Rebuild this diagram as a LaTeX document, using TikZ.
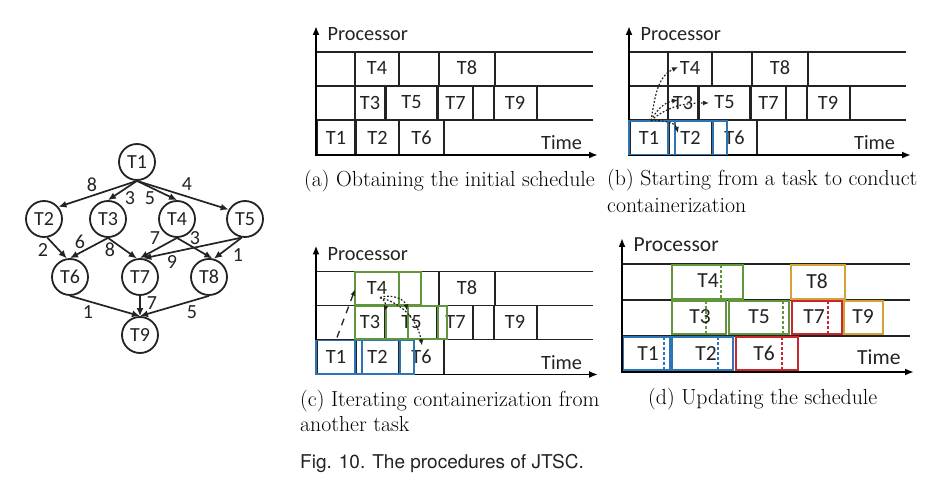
\documentclass[tikz,border=0pt]{standalone}
\usepackage{fontspec}
\newfontfamily\carl{Carlito}
\newfontfamily\heros{TeX Gyre Heros}
\usetikzlibrary{arrows.meta}
\definecolor{cblue}{RGB}{46,117,182}
\definecolor{cgreen}{RGB}{98,150,62}
\definecolor{cred}{RGB}{200,40,45}
\definecolor{corange}{RGB}{212,162,55}
\definecolor{cink}{RGB}{35,35,35}
\newcommand\basechart[1]{%
  \draw[rowline] (316,52) -- (593,52);
  \draw[rowline] (316,86) -- (593,86);
  \draw[rowline] (316,120) -- (593,120);
  \draw[tbox] (355,52) rectangle (399,86);
  \draw[tbox] (439,52) rectangle (495,86);
  \draw[tbox] (355,86) rectangle (385,120);
  \draw[tbox] (386,86) rectangle (437,120);
  \draw[tbox] (438,86) rectangle (473,120);
  \draw[tbox] (494,86) rectangle (537,120);
  \draw[tbox] (317,120) rectangle (355,155);
  \draw[tbox] (356,120) rectangle (399,155);
  \draw[tbox] (399,120) rectangle (444,155);
  \draw[axisarr] (316,155) -- (598,155);
  \draw[axisarr] (316,156) -- (316,26);
  \node[tlbl] (#1t4) at (377,68) {T4};
  \node[tlbl] (#1t8) at (467,68) {T8};
  \node[tlbl] (#1t3) at (370,102.5) {T3};
  \node[tlbl] (#1t5) at (411.5,102.5) {T5};
  \node[tlbl] (#1t7) at (455.5,102.5) {T7};
  \node[tlbl] (#1t9) at (515,102.5) {T9};
  \node[tlbl] (#1t1) at (336,137.5) {T1};
  \node[tlbl] (#1t2) at (377.5,137.5) {T2};
  \node[tlbl] (#1t6) at (421.5,137.5) {T6};
  \node[tlbl, anchor=base west] (#1proc) at (327.5,41) {Processor};
  \node[tlbl, anchor=base west] (#1time) at (541,150) {Time};
}
\newcommand\blueover{%
  \draw[blbox] (316,121) rectangle (355,154.5);
  \draw[blbox] (355,121) rectangle (362,154.5);
  \draw[blbox] (362,121) rectangle (400,154.5);
  \draw[blbox] (400,121) rectangle (414,154.5);
}
\begin{document}
\begin{tikzpicture}[x=1pt,y=-1pt,
  rowline/.style={draw=cink, line width=1.5pt},
  axisarr/.style={draw=black, line width=1.9pt, -{Latex[length=9pt,width=7pt]}},
  tbox/.style={draw=cink, line width=1.7pt},
  tlbl/.style={font=\carl\fontsize{20.3}{23}\selectfont, inner sep=0pt, text=cink},
  dlbl/.style={font=\carl\fontsize{21.5}{24}\selectfont, inner sep=0pt, text=cink},
  blbox/.style={draw=cblue, line width=1.8pt},
  grbox/.style={draw=cgreen, line width=1.8pt},
  dotarr/.style={draw=cink, line width=1.2pt, dash pattern=on 1.8pt off 1.8pt, -{Latex[length=6pt,width=5pt]}},
  dasharr/.style={draw=cink, line width=1.3pt, dash pattern=on 7pt off 6pt, -{Latex[length=6pt,width=5pt]}},
  capt/.style={font=\fontsize{21.8}{26}\selectfont, inner sep=0pt, anchor=base west},
  tnode/.style={circle, draw=cink, line width=1.8pt, minimum size=36pt, inner sep=0pt, font=\carl\fontsize{20}{23}\selectfont, text=cink},
  dagarr/.style={draw=cink, line width=1.7pt, -{Latex[length=8pt,width=7pt]}},
  wlbl/.style={font=\carl\fontsize{20}{23}\selectfont, inner sep=0pt, text=cink},
  dcol/.style={line width=2pt},
  vdash/.style={line width=1.4pt, dash pattern=on 3pt off 2pt}]
\useasboundingbox (0,0) rectangle (938,502);

% ---------------- DAG ----------------
\node[tnode] (T1) at (137,162) {T1};
\node[tnode] (T2) at (44,219) {T2};
\node[tnode] (T3) at (108,219) {T3};
\node[tnode] (T4) at (177,219) {T4};
\node[tnode] (T5) at (245,219) {T5};
\node[tnode] (T6) at (70,277) {T6};
\node[tnode] (T7) at (140,277) {T7};
\node[tnode] (T8) at (209,277) {T8};
\node[tnode] (T9) at (140,335) {T9};
\draw[dagarr] (T1.south) -- (T2.40);
\draw[dagarr] (T1.south) -- (T3.north);
\draw[dagarr] (T1.south) -- (T4.north);
\draw[dagarr] (T1.south) -- (T5.150);
\draw[dagarr] (T2.-80) -- (T6.100);
\draw[dagarr] (T3.south) -- (T6.north);
\draw[dagarr] (T3.south) -- (T7.100);
\draw[dagarr] (T4.south) -- (T7.north);
\draw[dagarr] (T4.south) -- (T8.80);
\draw[dagarr] (T5.-100) -- (T7.80);
\draw[dagarr] (T5.-100) -- (T8.75);
\draw[dagarr] (T6.south) -- (T9.north);
\draw[dagarr] (T7.south) -- (T9.north);
\draw[dagarr] (T8.south) -- (T9.north);
\node[wlbl] (w12) at (92,185) {8};
\node[wlbl] (w13) at (130,198.5) {3};
\node[wlbl] (w14) at (150,198.5) {5};
\node[wlbl] (w15) at (187,184) {4};
\node[wlbl] (w26) at (43,250) {2};
\node[wlbl] (w36) at (80,242) {6};
\node[wlbl] (w37) at (110,250) {8};
\node[wlbl] (w47) at (155,238.5) {7};
\node[wlbl] (w48) at (195,238.5) {3};
\node[wlbl] (w57) at (172,262) {9};
\node[wlbl] (w58) at (238,255) {1};
\node[wlbl] (w69) at (88,312) {1};
\node[wlbl] (w79) at (152,303.5) {7};
\node[wlbl] (w89) at (192,312) {5};

% ---------------- (a) ----------------
\basechart{a}
\node[capt] (capa) at (304,187) {(a) Obtaining the initial schedule};

% ---------------- (b) ----------------
\begin{scope}[shift={(313,0)}]
\basechart{b}
\blueover
\coordinate (bs) at (338,120.5);
\coordinate (bT4) at (365,67);
\coordinate (bT3) at (365,100);
\coordinate (bT5) at (396,103);
\coordinate (bT2) at (365,133);
\draw[dotarr] (bs) to[out=80,in=205] (bT4);
\draw[dotarr] (bs) to[out=62,in=190] (bT3);
\draw[dotarr] (bs) to[out=40,in=180] (bT5);
\draw[dotarr] (bs) to[out=0,in=105] (bT2);
\end{scope}
\node[capt] (capb1) at (607,186) {(b) Starting from a task to conduct};
\node[capt] (capb2) at (607,213) {containerization};

% ---------------- (c) ----------------
\begin{scope}[shift={(0,219.5)}]
\basechart{c}
\blueover
\draw[grbox] (355,52.5) rectangle (399,85.5);
\draw[grbox] (399,52.5) rectangle (421,85.5);
\draw[grbox] (355,86.5) rectangle (386,119.5);
\draw[grbox] (386,86.5) rectangle (408,119.5);
\draw[grbox] (408,86.5) rectangle (438,119.5);
\draw[grbox] (438,86.5) rectangle (447,119.5);
\coordinate (cs) at (337,118);
\coordinate (cT4) at (355,70);
\coordinate (cd) at (380,78);
\coordinate (cT3) at (384,92);
\coordinate (cT5) at (407,91);
\coordinate (cT6) at (422,126);
\draw[dasharr] (cs) -- (cT4);
\draw[dotarr] (cd) to[out=-20,in=70] (cT3);
\draw[dotarr] (cd) to[out=20,in=100] (cT5);
\draw[dotarr] (cd) to[out=-15,in=100] (cT6);
\end{scope}
\node[capt] (capc1) at (300,406.5) {(c) Iterating containerization from};
\node[capt] (capc2) at (300,431.5) {another task};

% ---------------- (d) ----------------
\draw[rowline] (622,264) -- (910,264);
\draw[rowline] (622,300) -- (910,300);
\draw[rowline] (622,336) -- (910,336);
% row 3
\draw[dcol, draw=cgreen] (672,264.8) rectangle (743,299);
\draw[vdash, draw=cgreen] (721,265) -- (721,299);
\draw[dcol, draw=corange] (791,264.8) rectangle (845,299);
% row 2
\draw[dcol, draw=cgreen] (672,301) rectangle (726,334.5);
\draw[vdash, draw=cgreen] (706,301) -- (706,334.5);
\draw[dcol, draw=cgreen] (729,301) rectangle (789,334.5);
\draw[vdash, draw=cgreen] (783,301) -- (783,334.5);
\draw[dcol, draw=cred] (792,301) rectangle (842,334.5);
\draw[vdash, draw=cred] (828,301) -- (828,334.5);
\draw[dcol, draw=corange] (844,301) rectangle (883,334.5);
% row 1
\draw[dcol, draw=cblue] (623,337) rectangle (670,370.5);
\draw[vdash, draw=cblue] (664,337) -- (664,370.5);
\draw[dcol, draw=cblue] (672,337) rectangle (733,370.5);
\draw[vdash, draw=cblue] (718,337) -- (718,370.5);
\draw[dcol, draw=cred] (736,337) rectangle (798,370.5);
\draw[vdash, draw=cred] (782,337) -- (782,370.5);
\draw[axisarr] (622,372) -- (914,372);
\draw[axisarr] (622,373) -- (622,238);
\node[dlbl] (dt4) at (708,281) {T4};
\node[dlbl] (dt8) at (817,281) {T8};
\node[dlbl] (dt3) at (700,317) {T3};
\node[dlbl] (dt5) at (759,317) {T5};
\node[dlbl] (dt7) at (814,317) {T7};
\node[dlbl] (dt9) at (863,317) {T9};
\node[dlbl] (dt1) at (648,353.5) {T1};
\node[dlbl] (dt2) at (706,353.5) {T2};
\node[dlbl] (dt6) at (764,353.5) {T6};
\node[dlbl, font=\carl\fontsize{21.5}{24}\selectfont, anchor=base west] (dproc) at (633.5,252) {Processor};
\node[dlbl, font=\carl\fontsize{21.5}{24}\selectfont, anchor=base west] (dtime) at (857,365) {Time};
\node[capt] (capd) at (648,405) {(d) Updating the schedule};

% ---------------- figure caption ----------------
\node[capt, font=\heros\fontsize{19}{23}\selectfont, text=cink] (figcap) at (300,469) {Fig. 10. The procedures of JTSC.};
\end{tikzpicture}
\end{document}
